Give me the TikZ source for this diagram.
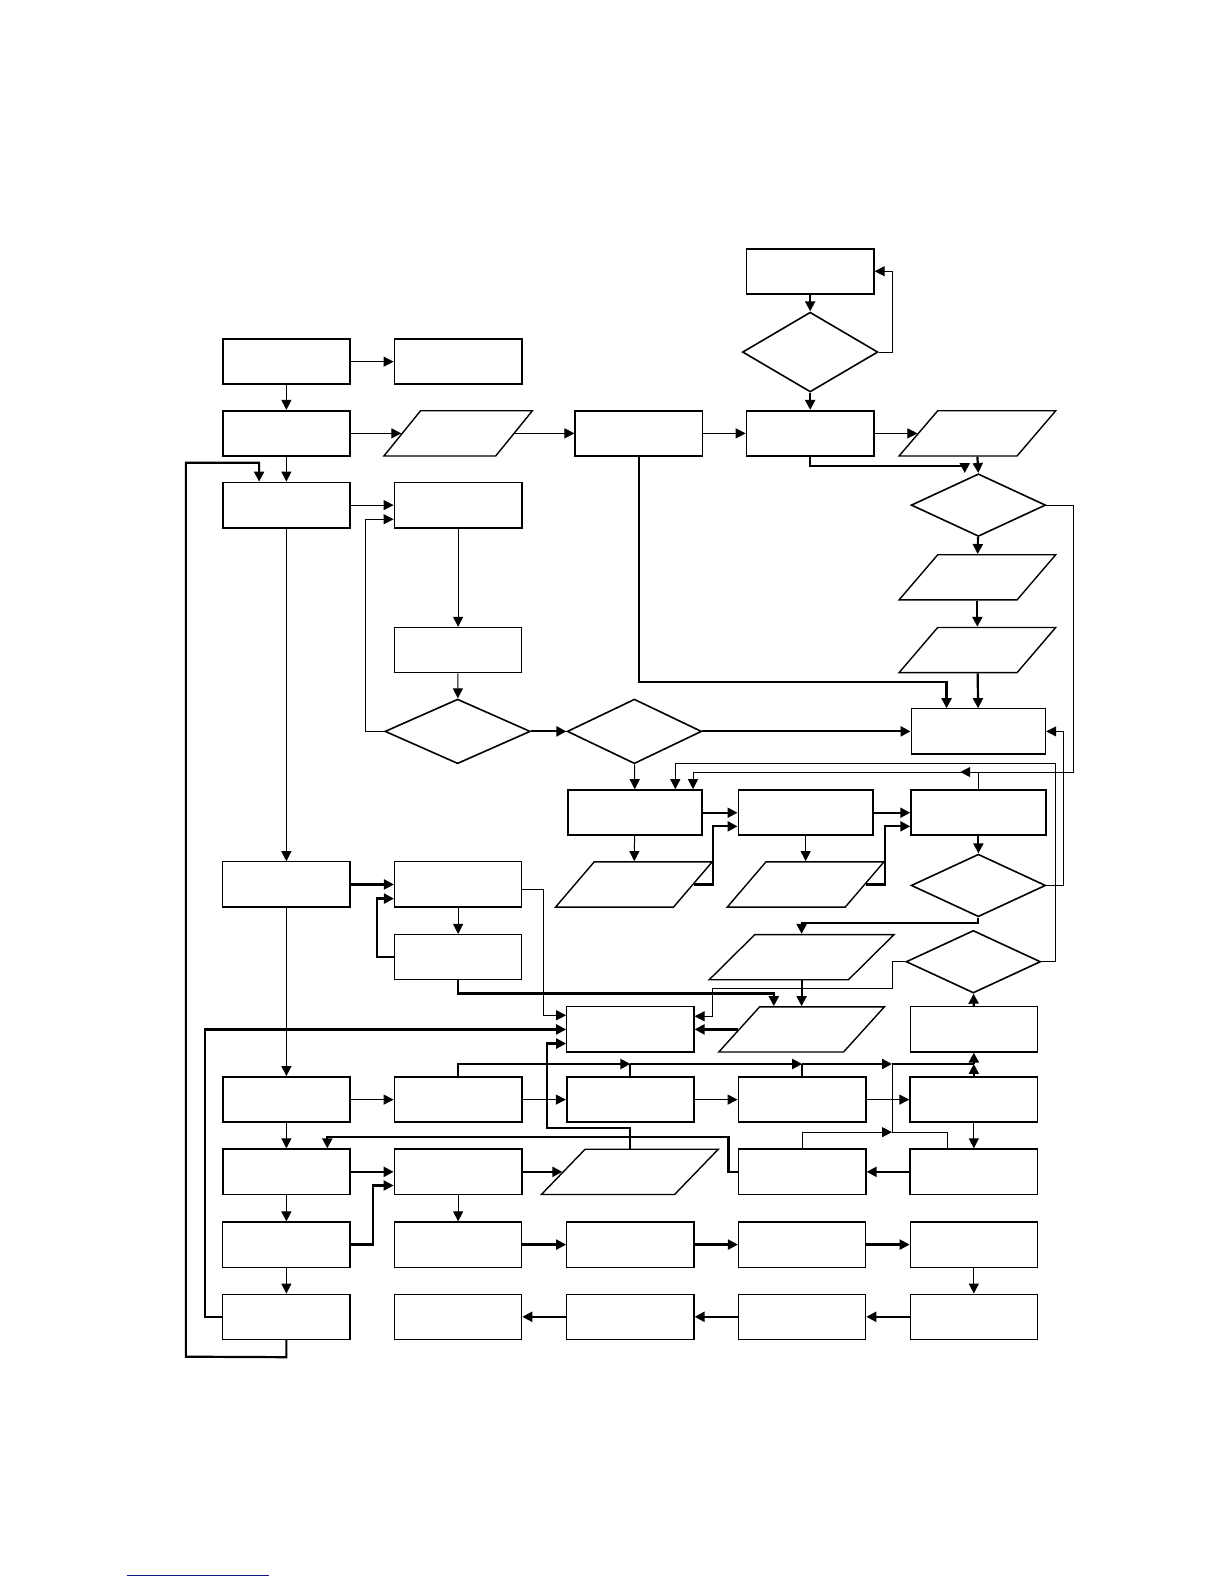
\documentclass[tikz,border=0pt]{standalone}
\usepackage{tikz}
\usetikzlibrary{
  positioning,
  shapes.geometric,
  arrows.meta,
  calc,
}
\definecolor{border}{HTML}{000000}
\definecolor{ruleBlue}{HTML}{12128C}
\tikzset{
  box/.style={
    rectangle, draw=border, fill=white,
    minimum width=63.6pt, minimum height=22.6pt,
    inner sep=1pt, line width=0.9pt,
  },
  lbox/.style={box, line width=0.6pt},
  wbox/.style={box, minimum width=67.2pt},
  lwbox/.style={wbox, line width=0.6pt},
  io/.style={
    trapezium, trapezium left angle=64, trapezium right angle=116,
    trapezium stretches=true, draw=border, fill=white,
    minimum width=78.3pt, minimum height=22.6pt,
    inner sep=1pt, line width=0.7pt,
  },
  dec/.style={
    diamond, draw=border, fill=white,
    minimum width=67.2pt, minimum height=31.3pt,
    inner sep=1pt, line width=0.8pt,
  },
  arrow/.style={-{Triangle[length=5pt,width=5pt]}, border, line width=0.5pt},
  tarrow/.style={arrow, line width=1.1pt},
  conn/.style={border, line width=0.5pt},
  tconn/.style={conn, line width=1.1pt},
}

\begin{document}
\begin{tikzpicture}[x=0.505pt, y=-0.505pt]

  \useasboundingbox (0,0) rectangle (1212,1568);

  % Top loop
  \node[box] (top) at (802,268.5) {};
  \node[dec, minimum width=67.7pt, minimum height=39.9pt] (topq) at (802,348.5) {};

  % Upper rows
  \node[box] (ra1) at (283.5,358) {};
  \node[box] (ra2) at (453.5,358) {};

  \node[box] (rc1) at (283.5,429) {};
  \node[io, minimum width=74.2pt] (rcP) at (453.5,429) {};
  \node[box] (rcD) at (632.5,429) {};
  \node[box] (rcI) at (802,429) {};
  \node[io] (rcP2) at (967.5,429) {};

  \node[box] (re1) at (283.5,500) {};
  \node[box] (re2) at (453.5,500) {};
  \node[dec] (reQ) at (968.5,500) {};

  \node[io] (rfP) at (967.5,571.5) {};
  \node[lbox] (rg2) at (453.5,643.5) {};
  \node[io] (rgP) at (967.5,643.5) {};

  \node[dec, minimum width=72.7pt, minimum height=32.3pt] (rhQ1) at (453,724) {};
  \node[dec, minimum height=32.3pt] (rhQ2) at (628,724) {};
  \node[lwbox] (rh5) at (968.5,724) {};

  % Middle rows
  \node[wbox] (ri3) at (628.5,804.5) {};
  \node[wbox] (ri4) at (797.5,804.5) {};
  \node[wbox] (ri5) at (968.5,804.5) {};

  \node[lbox] (rj1) at (283.5,875.5) {};
  \node[lbox] (rj2) at (453.5,875.5) {};
  \node[io] (rjP1) at (627.5,875.5) {};
  \node[io] (rjP2) at (797.5,875.5) {};
  \node[dec] (rjQ) at (968.5,876.5) {};

  \node[lbox] (rk2) at (453.5,947.5) {};
  \node[io, minimum width=92.4pt] (rkP) at (793.5,947.5) {};
  \node[dec] (rkQ) at (963.5,952) {};

  \node[lbox] (rl3) at (624,1019) {};
  \node[io, minimum width=82.8pt] (rlP) at (793.5,1019) {};
  \node[lbox] (rl5) at (964,1019) {};

  % Lower rows
  \node[box] (rm1) at (283.5,1088.5) {};
  \node[box] (rm2) at (453.5,1088.5) {};
  \node[box] (rm3) at (624,1088.5) {};
  \node[box] (rm4) at (794,1088.5) {};
  \node[box] (rm5) at (964,1088.5) {};

  \node[box] (rn1) at (283.5,1160) {};
  \node[box] (rn2) at (453.5,1160) {};
  \node[io, minimum width=88.4pt] (rnP) at (623.5,1160) {};
  \node[box] (rn4) at (794,1160) {};
  \node[box] (rn5) at (964,1160) {};

  \node[lbox] (ro1) at (283.5,1232) {};
  \node[lbox] (ro2) at (453.5,1232) {};
  \node[lbox] (ro3) at (624,1232) {};
  \node[lbox] (ro4) at (794,1232) {};
  \node[lbox] (ro5) at (964,1232) {};

  \node[lbox] (rp1) at (283.5,1303.5) {};
  \node[lbox] (rp2) at (453.5,1303.5) {};
  \node[lbox] (rp3) at (624,1303.5) {};
  \node[lbox] (rp4) at (794,1303.5) {};
  \node[lbox] (rp5) at (964,1303.5) {};

  % Junctions
  \coordinate (j3) at ($(rm3.north)+(0,-12)$);
  \coordinate (j4) at ($(rm4.north)+(0,-12)$);
  \coordinate (j5) at ($(rm5.north)+(0,-12)$);
  \coordinate (jx) at ($(j4)+(89,0)$);
  \coordinate (jy) at ($(rn4.north)+(89,-16)$);

  % Top loop connectors
  \draw[tarrow] (top) -- (topq);
  \draw[tarrow] (topq) -- (rcI);
  \draw[arrow] (topq.east) -- ++(14,0) |- (top.east);

  % Upper connectors
  \draw[arrow] (ra1) -- (ra2);
  \draw[arrow] (ra1) -- (rc1);
  \draw[arrow] (rc1.east) -- (rcP.left side);
  \draw[arrow] (rcP.right side) -- (rcD.west);
  \draw[arrow] (rcD) -- (rcI);
  \draw[arrow] (rcI.east) -- (rcP2.left side);
  \draw[tarrow] (rcI.south) -- ++(0,9) -| ($(reQ.north)+(-13.5,0)$);
  \draw[tarrow] (rcP2.south) -- (reQ.north);
  \draw[tarrow] (rcD.south) -- ++(0,222.5) -| ($(rh5.north)+(-31.5,0)$);
  \draw[tarrow] (reQ) -- (rfP);
  \draw[tarrow] (rfP) -- (rgP);
  \draw[tarrow] (rgP) -- (rh5);
  \draw[arrow] (reQ.east) -- ++(27,0) -- ++(0,265) -| ($(ri3.north)+(57.5,0)$);
  \draw[arrow] (ri5.north) |- ($(ri5.north)+(-18,-17)$);

  \draw[arrow] (rc1) -- (re1);
  \draw[arrow] (re1) -- (re2);
  \draw[arrow] (re2) -- (rg2);
  \draw[arrow] (rg2) -- (rhQ1);
  \draw[arrow] (rhQ1.west) -- ++(-18,0) |- ($(re2.west)+(0,14)$);
  \draw[tarrow] (rhQ1.east) -- (rhQ2.west);
  \draw[tarrow] (rhQ2.east) -- (rh5.west);
  \draw[arrow] (rhQ2) -- (ri3);

  % Middle connectors
  \draw[tarrow] (ri3) -- (ri4);
  \draw[tarrow] (ri4) -- (ri5);
  \draw[arrow] (ri3) -- (rjP1);
  \draw[arrow] (ri4) -- (rjP2);
  \draw[tarrow] (rjP1.right side) -- ++(19,0) |- ($(ri4.west)+(0,13.5)$);
  \draw[tarrow] (rjP2.right side) -- ++(19,0) |- ($(ri5.west)+(0,13.5)$);
  \draw[tarrow] (ri5) -- (rjQ);
  \draw[arrow] (rjQ.east) -- ++(17,0) |- (rh5.east);
  \draw[arrow] (rkQ.east) -- ++(14,0) -- ++(0,-196) -| ($(ri3.north)+(40,0)$);
  \draw[tarrow] (rjQ.south) -- ++(0,5) -| (rkP.north);
  \draw[tarrow] (rkP) -- (rlP);
  \draw[tarrow] (rlP.left side) -- (rl3.east);
  \draw[arrow] (rkQ.west) -- ++(-13,0) -- ++(0,26.5) -| ($(rl3.east)+(18,-13)$) -- ($(rl3.east)+(0,-13)$);
  \draw[tarrow] (rl5) -- (rkQ);

  \draw[arrow] (re1) -- (rj1);
  \draw[tarrow] (rj1) -- (rj2);
  \draw[arrow] (rj2) -- (rk2);
  \draw[tarrow] (rk2.west) -- ++(-17,0) |- ($(rj2.west)+(0,14)$);
  \draw[arrow] ($(rj2.east)+(0,5)$) -- ++(21,0) |- ($(rl3.west)+(0,-14)$);
  \draw[tarrow] (rk2.south) -- ++(0,13) -| ($(rlP.north)+(-27.5,0)$);
  \draw[tarrow] (rp1.west) -- ++(-17,0) |- (rl3.west);
  \draw[tarrow] (rnP.north) -- ++(0,-20) -| ($(rl3.west)+(-19,14)$) -- ($(rl3.west)+(0,14)$);

  % Lower connectors
  \draw[arrow] (rj1) -- (rm1);
  \draw[arrow] (rm1) -- (rm2);
  \draw[arrow] (rm2) -- (rm3);
  \draw[arrow] (rm3) -- (rm4);
  \draw[arrow] (rm4) -- (rm5);
  \draw[tarrow] (rm2.north) |- (j3);
  \draw[tconn] (rm3.north) -- (j3);
  \draw[tarrow] (j3) -- (j4);
  \draw[tconn] (rm4.north) -- (j4);
  \draw[tarrow] (j4) -- (jx);
  \draw[tconn] (jx) -- (j5);
  \draw[tarrow] (j5) -- (rl5.south);
  \draw[tarrow] (rm5.north) -- (j5);
  \draw[conn] (jx) -- (jy);
  \draw[arrow] (rn4.north) |- (jy);
  \draw[conn] (jy) -| ($(rn5.north)+(-26.5,0)$);

  \draw[arrow] (rm1) -- (rn1);
  \draw[arrow] (rm5) -- (rn5);
  \draw[tarrow] (rn1) -- (rn2);
  \draw[tarrow] (rn2.east) -- (rnP.left side);
  \draw[tarrow] (rn5) -- (rn4);
  \draw[tarrow] (rn4.west) -- ++(-9,0) -- ++(0,-34.5) -| ($(rn1.north)+(40.5,0)$);
  \draw[tarrow] (ro1.east) -- ++(22,0) |- ($(rn2.west)+(0,13.5)$);

  \draw[arrow] (rn1) -- (ro1);
  \draw[arrow] (rn2) -- (ro2);
  \draw[tarrow] (ro2) -- (ro3);
  \draw[tarrow] (ro3) -- (ro4);
  \draw[tarrow] (ro4) -- (ro5);
  \draw[arrow] (ro5) -- (rp5);
  \draw[tarrow] (rp5) -- (rp4);
  \draw[tarrow] (rp4) -- (rp3);
  \draw[tarrow] (rp3) -- (rp2);
  \draw[arrow] (ro1) -- (rp1);
  \draw[tarrow] (rp1.south) -- ++(0,17) -- (184,1343) -- (184,458) -| ($(re1.north)+(-27,0)$);

  % Foot rule
  \draw[ruleBlue, line width=0.7pt] (125.5,1559.5) -- (266.5,1559.5);

\end{tikzpicture}
\end{document}
